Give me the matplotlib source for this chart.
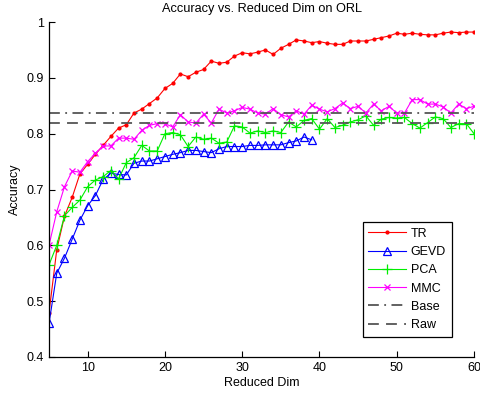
import matplotlib
matplotlib.use("Agg")
import matplotlib.pyplot as plt
import numpy as np

plt.rcParams['font.family'] = ['Liberation Sans', 'DejaVu Sans']

dims = list(range(5, 61))
tr = [0.479, 0.592, 0.652, 0.686, 0.728, 0.745, 0.763, 0.779, 0.795, 0.810,
      0.816, 0.837, 0.844, 0.854, 0.864, 0.881, 0.890, 0.907, 0.902, 0.910,
      0.915, 0.930, 0.926, 0.928, 0.939, 0.945, 0.943, 0.946, 0.950, 0.942,
      0.953, 0.960, 0.968, 0.966, 0.963, 0.965, 0.962, 0.960, 0.960, 0.966,
      0.966, 0.966, 0.969, 0.972, 0.975, 0.980, 0.978, 0.980, 0.978, 0.977,
      0.977, 0.980, 0.982, 0.981, 0.982, 0.982]
gevd_dims = list(range(5, 40))
gevd = [0.460, 0.550, 0.577, 0.611, 0.645, 0.671, 0.689, 0.718, 0.729, 0.727,
        0.726, 0.747, 0.751, 0.751, 0.755, 0.759, 0.763, 0.766, 0.770, 0.770,
        0.768, 0.766, 0.773, 0.777, 0.777, 0.777, 0.779, 0.779, 0.780, 0.780,
        0.780, 0.784, 0.787, 0.794, 0.789]
pca = [0.565, 0.600, 0.653, 0.668, 0.681, 0.705, 0.717, 0.723, 0.734, 0.719,
       0.748, 0.757, 0.779, 0.769, 0.769, 0.800, 0.802, 0.798, 0.777, 0.794,
       0.790, 0.792, 0.783, 0.785, 0.814, 0.812, 0.801, 0.805, 0.802, 0.805,
       0.802, 0.821, 0.812, 0.824, 0.827, 0.808, 0.827, 0.811, 0.815, 0.821,
       0.825, 0.832, 0.815, 0.826, 0.829, 0.828, 0.829, 0.818, 0.810, 0.820,
       0.830, 0.827, 0.811, 0.818, 0.818, 0.800]
mmc = [0.600, 0.660, 0.705, 0.733, 0.731, 0.750, 0.765, 0.778, 0.778, 0.792,
       0.792, 0.790, 0.806, 0.815, 0.818, 0.818, 0.812, 0.834, 0.821, 0.819,
       0.835, 0.819, 0.844, 0.837, 0.841, 0.847, 0.844, 0.837, 0.835, 0.845,
       0.834, 0.830, 0.841, 0.835, 0.851, 0.844, 0.839, 0.845, 0.855, 0.845,
       0.849, 0.837, 0.853, 0.841, 0.849, 0.837, 0.837, 0.861, 0.861, 0.853,
       0.853, 0.848, 0.837, 0.853, 0.845, 0.849]
base_acc = 0.837
raw_acc = 0.820

xticks = [10, 20, 30, 40, 50, 60]
yticks = [0.4, 0.5, 0.6, 0.7, 0.8, 0.9, 1.0]
ytick_labels = ['0.4', '0.5', '0.6', '0.7', '0.8', '0.9', '1']

fig = plt.figure(figsize=(4.81, 3.96), dpi=100)
ax = fig.add_axes([0.1019, 0.0985, 0.8836, 0.8459])

ax.plot(dims, tr, color='#ff0000', lw=0.8, marker='.', markersize=4, label='TR')
ax.plot(gevd_dims, gevd, color='#0000ff', lw=0.8, marker='^', markersize=6,
        markerfacecolor='none', markeredgewidth=0.9, label='GEVD')
ax.plot(dims, pca, color='#00ee00', lw=0.8, marker='+', markersize=7,
        markeredgewidth=0.9, label='PCA')
ax.plot(dims, mmc, color='#ff00ff', lw=0.8, marker='x', markersize=5,
        markeredgewidth=0.9, label='MMC')
ax.axhline(base_acc, color='#555555', lw=1.3, linestyle=(0, (6, 3, 1, 3)), label='Base')
ax.axhline(raw_acc, color='#555555', lw=1.3, linestyle=(0, (6, 4)), label='Raw')

ax.set_xlim(5, 60)
ax.set_ylim(0.4, 1.0)
ax.set_xticks(xticks)
ax.set_yticks(yticks)
ax.set_yticklabels(ytick_labels)
ax.tick_params(direction='in', length=4, width=0.8, labelsize=9)
ax.spines['top'].set_visible(False)
ax.spines['right'].set_visible(False)
for s in ('left', 'bottom'):
    ax.spines[s].set_linewidth(0.9)

ax.set_title('Accuracy vs. Reduced Dim on ORL', fontsize=9.2, pad=7)
ax.set_xlabel('Reduced Dim', fontsize=9, labelpad=2)
ax.set_ylabel('Accuracy', fontsize=9, labelpad=4)

leg = ax.legend(loc='lower right', bbox_to_anchor=(0.962, 0.042), fontsize=9,
                handlelength=3.0, handletextpad=0.4, labelspacing=0.5,
                borderpad=0.45, fancybox=False, framealpha=1, edgecolor='black')
leg.get_frame().set_linewidth(0.9)

fig.savefig('out.png', dpi=100)
